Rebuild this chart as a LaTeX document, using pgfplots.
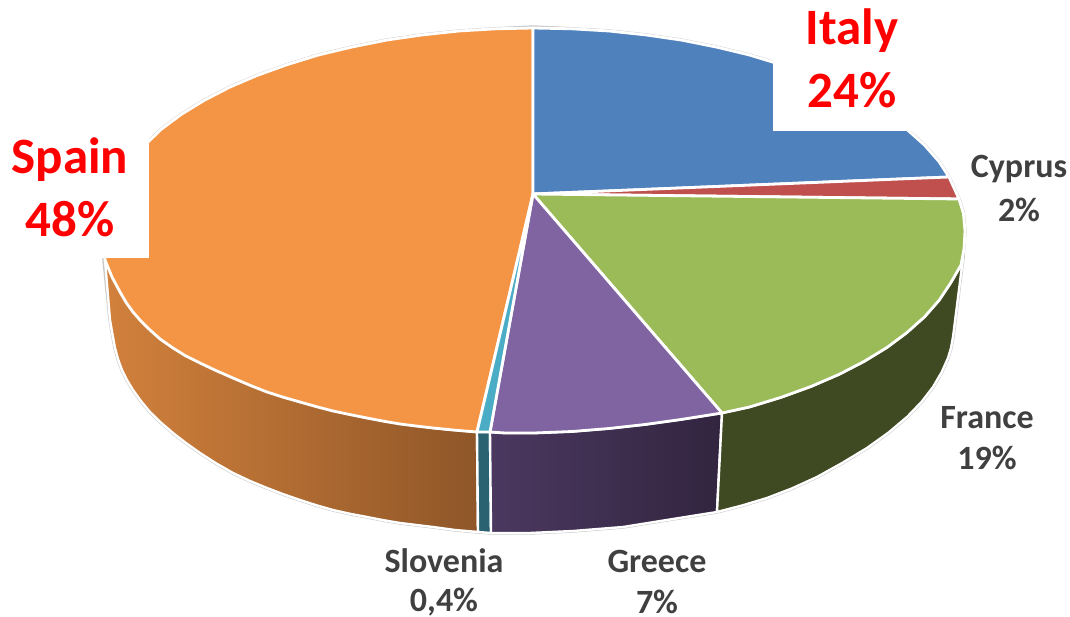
\documentclass[border=0pt]{standalone}
\usepackage{pgfplots}
\pgfplotsset{compat=1.18}
\usepackage{fontspec}
\setmainfont{Carlito}
\definecolor{cblue}{HTML}{4F81BD}
\definecolor{cred}{HTML}{C0504D}
\definecolor{cgreen}{HTML}{9BBB59}
\definecolor{cpurple}{HTML}{8064A2}
\definecolor{caqua}{HTML}{4BACC6}
\definecolor{corange}{HTML}{F49546}
\definecolor{sideaqua}{HTML}{2A6272}
\definecolor{sidegreen}{HTML}{3F4A22}
\definecolor{orangeL}{HTML}{D2813C}
\definecolor{orangeR}{HTML}{8F5628}
\definecolor{purpleL}{HTML}{4B3860}
\definecolor{purpleR}{HTML}{32253F}
\definecolor{lab}{HTML}{404040}
\newcommand{\biglabel}[2]{\node[inner sep=0pt,text=red,font=\fontsize{51}{60}\selectfont\bfseries] at (axis cs:#1) {#2};}
\newcommand{\smalllabel}[2]{\node[inner sep=0pt,text=lab,font=\fontsize{34}{41}\selectfont\bfseries] at (axis cs:#1) {#2};}
\begin{document}
\begin{tikzpicture}
\begin{axis}[
  scale only axis,
  width=1070pt, height=617pt,
  xmin=0, xmax=1070, ymin=0, ymax=617,
  y dir=reverse,
  hide axis,
  clip=false,
  no markers,
  every axis plot/.append style={line join=round, solid},
]
% outer silhouette, faint grey edge
\addplot[draw=black!22, line width=3.4pt, fill=white] coordinates {
  (533,27)(571.6,28.8)(609,31)(645.5,34.9)(681,40)(716.1,47)(749.5,55)(781.2,64.7)(811,75.5)(838.8,87.5)(864,100.5)
  (887.1,114.6)(907,129.5)(924.6,145.2)(939,161.6)(949,177)(959,199)(963.4,213.3)(965,231)(963,258)(953,337)(951,348)(948,358)(941.8,372)(933,387)(921.6,401.9)(907,417)(888.5,432.6)(867,448)(842,463.1)
  (817,477)(792,488.4)(767,498)(742,505.5)(717,512)(673,519)(623,527)(573,531)(530,533)(491,533)(478,532)(455,530)(433,527)(416.5,525)(400,523)(383.5,520.2)(367,517)(350,513.8)(333,510)(316.5,505.3)(300,500)(283.5,494.3)
  (267,488)(250,481)(233,473)(216,463.3)(200,453)(185.9,443)(173,433)(160.9,422.6)(150,412)(140.8,400.9)(133,390)(126.9,380)(122,370)(118.1,359.5)(115,348)(112.5,334.5)(110,320)(104,260)(103,231)(109.5,196)
  (129,161.6)(145,145)(161,129.5)(181,114.6)(204,100.5)(229,87.5)(257,75.5)(287,64.7)(318.5,55)(352,47)(387,40)(422.5,34.9)(459,31)(496,28.8)
} -- cycle;

% side faces
\addplot[draw=white, line width=2.4pt, left color=orangeL, right color=orangeR] coordinates {
  (477,432)(433,428)(367,418)(300,402)(233,378)(173,348)(133,312)(105,260)
  (110,320)(112.5,334.5)(115,348)(118.1,359.5)(122,370)(126.9,380)(133,390)(140.8,400.9)(150,412)(160.9,422.6)(173,433)(185.9,443)(200,453)(216,463.3)(233,473)(250,481)(267,488)(283.5,494.3)(300,500)(316.5,505.3)(333,510)(350,513.8)(367,517)(383.5,520.2)(400,523)(416.5,525)(433,527)(455,530)(478,532)
} -- cycle;
\addplot[draw=white, line width=2.4pt, fill=sideaqua] coordinates {
  (477,432)(490,432)(491,533)(478,532)
} -- cycle;
\addplot[draw=white, line width=2.4pt, left color=purpleL, right color=purpleR] coordinates {
  (490,432)(505,433)(534,433)(572,431.5)(609,428.5)(645,424.5)(681,419.5)(722,413)
  (717,512)(673,519)(623,527)(573,531)(530,533)(491,533)
} -- cycle;
\addplot[draw=white, line width=2.4pt, fill=sidegreen] coordinates {
  (722,413)(749.5,407)(781.2,397.3)(811,386.5)(838.8,374.5)(864,361.5)(887.1,347.4)(907,332.5)(924.6,316.8)(939,300.4)(950.3,283.5)(961,265)(963,258)
  (953,337)(951,348)(948,358)(941.8,372)(933,387)(921.6,401.9)(907,417)(888.5,432.6)(867,448)(842,463.1)(817,477)(792,488.4)(767,498)(742,505.5)(717,512)
} -- cycle;

% top wedges
\addplot[draw=white, line width=2.8pt, fill=corange] coordinates {
  (533,194)(477,432)(455,430.2)(433,428)(416.5,426.1)(400,424)(383.5,421.2)(367,418)(350,414.6)(333,411)(316.5,406.7)(300,402)(283.5,397.3)(267,392)(250,385.3)(233,378)(216,370.6)(200,363)(185.3,355.7)(173,348)(160.3,339.2)(150,330)(140.9,321.1)(133,312)(126.4,302.9)(120,292)(112,277)(105,260)
  (103,231)(109.5,196)(129,161.6)(145,145)(161,129.5)(181,114.6)(204,100.5)(229,87.5)(257,75.5)(287,64.7)(318.5,55)(352,47)(387,40)(422.5,34.9)(459,31)(496,28.8)(533,28)
} -- cycle;
\addplot[draw=white, line width=2.8pt, fill=cblue] coordinates {
  (533,194)(533,28)(571.6,28.8)(609,31)(645.5,34.9)(681,40)(716.1,47)(749.5,55)(781.2,64.7)(811,75.5)(838.8,87.5)(864,100.5)(887.1,114.6)(907,129.5)(924.6,145.2)(939,161.6)(949,177)
} -- cycle;
\addplot[draw=white, line width=2.8pt, fill=cred] coordinates {
  (533,194)(949,177)(954,188)(959,199)
} -- cycle;
\addplot[draw=white, line width=2.8pt, fill=cgreen] coordinates {
  (533,194)(959,199)(963.4,213.3)(965,231)(964,249)(961,265)(950.3,283.5)(939,300.4)(924.6,316.8)(907,332.5)(887.1,347.4)(864,361.5)(838.8,374.5)(811,386.5)(781.2,397.3)(749.5,407)(722,413)
} -- cycle;
\addplot[draw=white, line width=2.8pt, fill=cpurple] coordinates {
  (533,194)(722,413)(681,419.5)(645,424.5)(609,428.5)(572,431.5)(534,433)(505,433)(490,432)
} -- cycle;
\addplot[draw=white, line width=2.8pt, fill=caqua] coordinates {
  (533,194)(490,432)(477,432)
} -- cycle;

% white boxes behind the two big labels
\addplot[draw=none, fill=white] coordinates {(0,131)(149,131)(149,258)(0,258)} -- cycle;
\addplot[draw=none, fill=white] coordinates {(773,0)(935,0)(935,131)(773,131)} -- cycle;
% keeps the page at full size
\addplot[draw=none] coordinates {(0,0)(1070,617)};

\biglabel{852,31}{Italy}
\biglabel{852,90}{24\%}
\biglabel{70,160}{Spain}
\biglabel{70,219}{48\%}
\smalllabel{1019,169}{Cyprus}
\smalllabel{1019,210}{2\%}
\smalllabel{987,418}{France}
\smalllabel{987,458}{19\%}
\smalllabel{444,561}{Slovenia}
\smalllabel{444,602}{0,4\%}
\smalllabel{657,561}{Greece}
\smalllabel{657,602}{7\%}
\end{axis}
\end{tikzpicture}
\end{document}
